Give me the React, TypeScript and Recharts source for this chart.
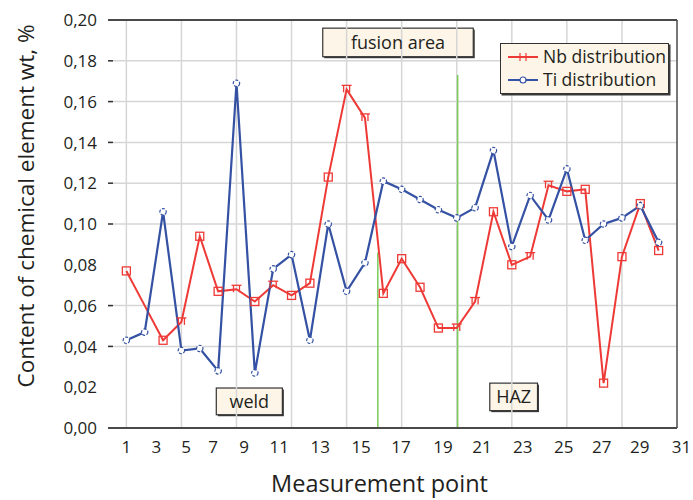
import { Legend, Line, LineChart, ReferenceArea, ReferenceLine, XAxis, YAxis } from "recharts";

// measurement points and read-off contents (wt, %)
const POINTS = [1, 2, 3, 4, 5, 6, 7, 8, 9, 10, 11, 12, 13, 14, 15, 16, 17, 18, 19, 20, 21, 22, 23, 24, 25, 26, 27, 28, 29, 30];
const NB = [0.077, 0.06, 0.043, 0.052, 0.094, 0.067, 0.068, 0.062, 0.07, 0.065, 0.071, 0.123, 0.166, 0.152, 0.066, 0.083, 0.069, 0.049, 0.049, 0.062, 0.106, 0.08, 0.084, 0.119, 0.116, 0.117, 0.022, 0.084, 0.11, 0.087];
const TI = [0.043, 0.047, 0.106, 0.038, 0.039, 0.028, 0.169, 0.027, 0.078, 0.085, 0.043, 0.1, 0.067, 0.081, 0.121, 0.117, 0.112, 0.107, 0.103, 0.108, 0.136, 0.089, 0.114, 0.102, 0.127, 0.092, 0.1, 0.103, 0.109, 0.091];

// points drawn with a square marker in the original; the rest carry the small bar marker
const NB_SQUARES = [1, 3, 5, 6, 8, 10, 11, 12, 15, 16, 17, 18, 21, 22, 25, 26, 27, 28, 29, 30];
const NB_NO_MARK = [2];

// x tick labels, and where the original printed them
const X_LABELS = ["1", "3", "5", "7", "9", "11", "13", "15", "17", "19", "21", "23", "25", "27", "29", "31"];
const X_LABEL_AT = [1, 2.63, 4.26, 5.73, 7.42, 9.33, 11.56, 13.79, 15.96, 18.25, 20.37, 22.6, 24.83, 26.9, 28.97, 31.25];
const X_GRID = [1, 4, 7, 10, 13, 16, 19, 22, 25, 28];

const Y_TICKS = [0, 0.02, 0.04, 0.06, 0.08, 0.1, 0.12, 0.14, 0.16, 0.18, 0.2];
const Y_GRID = [0.04, 0.06, 0.1, 0.12, 0.14, 0.16, 0.18];
const Y_NO_MARK = [0, 0.02, 0.08, 0.2];

// fusion-line markers
const FUSION_LINES = [
  { x: 14.7, top: 0.086 },
  { x: 19.05, top: 0.173 },
];

const RED = "#ee3a36";
const BLUE = "#3451a3";
const INK = "#231f20";
const FONT = "'Open Sans', sans-serif";

const data = POINTS.map((x, i) => ({ x, nb: NB[i], ti: TI[i] }));

const NbDot = (props: any) => {
  const { cx, cy, payload } = props;
  if (cx == null || cy == null) return null;
  const p = payload.x;
  if (NB_NO_MARK.includes(p)) return <g key={p} />;
  if (NB_SQUARES.includes(p)) {
    return <rect key={p} x={cx - 4} y={cy - 4} width={8} height={8} fill="none" stroke={RED} strokeWidth={1.3} />;
  }
  return (
    <g key={p} stroke={RED} strokeWidth={1.3}>
      <line x1={cx - 3} x2={cx - 3} y1={cy - 4} y2={cy + 3} />
      <line x1={cx + 3} x2={cx + 3} y1={cy - 4} y2={cy + 3} />
      <line x1={cx - 5} x2={cx + 5} y1={cy - 4} y2={cy - 4} />
    </g>
  );
};

const TiDot = (props: any) => {
  const { cx, cy, payload } = props;
  if (cx == null || cy == null) return null;
  return <circle key={payload.x} cx={cx} cy={cy} r={3.2} fill="#fff" stroke={BLUE} strokeWidth={1.2} strokeDasharray="3 1.5" />;
};

const YTick = ({ x, y, payload }: any) => {
  const v = payload.value;
  return (
    <g>
      <text x={x - 11} y={y} dy="0.36em" textAnchor="end" fontSize={17} fill={INK} fontFamily={FONT}>
        {v.toFixed(2).replace(".", ",")}
      </text>
      {!Y_NO_MARK.includes(v) && <line x1={x} x2={x + 5} y1={y} y2={y} stroke="#333" strokeWidth={1.5} />}
    </g>
  );
};

const XTick = ({ x, y, index }: any) => (
  <text x={x} y={y} dy="0.71em" textAnchor="middle" fontSize={17} fill={INK} fontFamily={FONT}>
    {X_LABELS[index]}
  </text>
);

const XTitle = ({ viewBox }: any) => (
  <text x={viewBox.x + viewBox.width / 2 - 13} y={viewBox.y + 64} textAnchor="middle" fontSize={23.5} fill={INK} fontFamily={FONT}>
    Measurement point
  </text>
);

const YTitle = ({ viewBox }: any) => {
  const cx = viewBox.x + 25;
  const cy = viewBox.y + viewBox.height / 2 - 18;
  return (
    <text
      x={cx}
      y={cy}
      transform={`rotate(-90 ${cx} ${cy})`}
      textAnchor="middle"
      dominantBaseline="central"
      fontSize={22.5}
      fill={INK}
      fontFamily={FONT}
    >
      Content of chemical element wt, %
    </text>
  );
};

const NoteBox = (props: any) => {
  const { x, y, width, height } = props;
  return (
    <g>
      <rect x={x + 1.5} y={y + 1.5} width={width} height={height} fill="#3a3a3a" />
      <rect x={x} y={y} width={width} height={height} fill="#fdf5e7" stroke="#333" strokeWidth={1.2} />
    </g>
  );
};

const noteLabel = (value: string) => ({ value, position: "center" as const, fill: INK, fontSize: 18, fontFamily: FONT });

const LegendBox = () => (
  <div
    style={{
      background: "#fdf5e7",
      border: "1.2px solid #333",
      boxShadow: "1.5px 1.5px 0 #3a3a3a",
      padding: "1px 2px 2px 6px",
      fontFamily: FONT,
      fontSize: 17.5,
      color: INK,
      lineHeight: "23px",
    }}
  >
    {[
      { name: "Nb distribution", color: RED, kind: "bar" },
      { name: "Ti distribution", color: BLUE, kind: "circle" },
    ].map((it) => (
      <div key={it.name} style={{ display: "flex", alignItems: "center", whiteSpace: "nowrap", height: 23 }}>
        <svg width={31} height={12} style={{ marginRight: 5 }}>
          <line x1={1} x2={31} y1={6} y2={6} stroke={it.color} strokeWidth={2} />
          {it.kind === "bar" ? (
            <g stroke={it.color} strokeWidth={1.2}>
              <line x1={13} x2={13} y1={2} y2={10} />
              <line x1={19} x2={19} y1={2} y2={10} />
            </g>
          ) : (
            <circle cx={16} cy={6} r={3} fill="#fff" stroke={it.color} strokeWidth={1.2} />
          )}
        </svg>
        <span>{it.name}</span>
      </div>
    ))}
  </div>
);

export default function App() {
  return (
    <div style={{ position: "absolute", left: 0, top: 0, width: 693, height: 500, background: "#fff" }}>
      <LineChart width={693} height={500} data={data} margin={{ top: 20, right: 16, bottom: 0, left: 0 }}>
        {X_GRID.map((v) => (
          <ReferenceLine key={`gx${v}`} x={v} stroke="#d6d6d6" strokeWidth={1.5} />
        ))}
        {Y_GRID.map((v) => (
          <ReferenceLine key={`gy${v}`} y={v} stroke="#d6d6d6" strokeWidth={1.5} />
        ))}
        <ReferenceLine y={0.2} stroke="#4a4a4a" strokeWidth={2} />
        <ReferenceLine x={31} stroke="#4a4a4a" strokeWidth={1.5} />
        {FUSION_LINES.map((f) => (
          <ReferenceLine
            key={`f${f.x}`}
            segment={[
              { x: f.x, y: 0 },
              { x: f.x, y: f.top },
            ]}
            stroke="#7acb5a"
            strokeWidth={1.5}
          />
        ))}
        <XAxis
          type="number"
          dataKey="x"
          domain={[0, 31]}
          ticks={X_LABEL_AT}
          allowDataOverflow
          height={72}
          tickSize={0}
          tickMargin={13}
          tickLine={false}
          axisLine={{ stroke: "#4a4a4a", strokeWidth: 2 }}
          tick={<XTick />}
          interval={0}
          label={<XTitle />}
        />
        <YAxis
          type="number"
          domain={[0, 0.2]}
          ticks={Y_TICKS}
          width={108}
          tickSize={0}
          tickMargin={0}
          tickLine={false}
          axisLine={false}
          tick={<YTick />}
          interval={0}
          label={<YTitle />}
        />
        <ReferenceArea x1={11.7} x2={19.9} y1={0.182} y2={0.196} shape={<NoteBox />} label={noteLabel("fusion area")} ifOverflow="visible" />
        <ReferenceArea x1={5.9} x2={9.5} y1={0.0065} y2={0.0196} shape={<NoteBox />} label={noteLabel("weld")} ifOverflow="visible" />
        <ReferenceArea x1={20.8} x2={23.4} y1={0.0085} y2={0.022} shape={<NoteBox />} label={noteLabel("HAZ")} ifOverflow="visible" />
        <Line dataKey="nb" name="Nb distribution" stroke={RED} strokeWidth={2} dot={<NbDot />} activeDot={false} isAnimationActive={false} />
        <Line dataKey="ti" name="Ti distribution" stroke={BLUE} strokeWidth={2.2} dot={<TiDot />} activeDot={false} isAnimationActive={false} />
        <Legend
          layout="horizontal"
          align="center"
          verticalAlign="middle"
          content={<LegendBox />}
          wrapperStyle={{ position: "absolute", left: 500, top: 43, width: "auto" }}
        />
      </LineChart>
    </div>
  );
}
